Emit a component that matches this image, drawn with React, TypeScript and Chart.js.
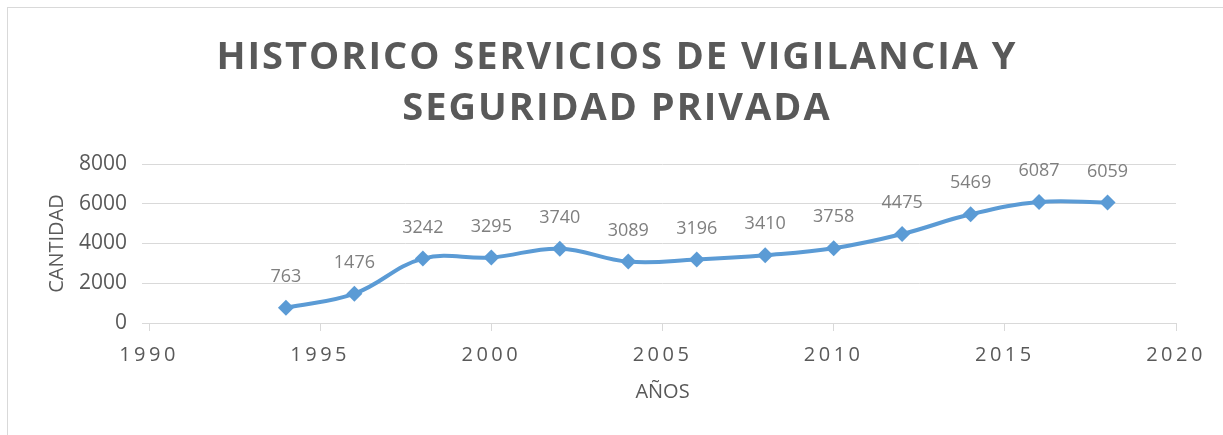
import React, { useEffect, useRef } from "react";
import { Chart, registerables } from "chart.js";

Chart.register(...registerables);

const TITLE_LINES = ["HISTORICO SERVICIOS DE VIGILANCIA Y", "SEGURIDAD PRIVADA"];
const Y_TITLE = "CANTIDAD";
const X_TITLE = "AÑOS";
const YEARS = [1994, 1996, 1998, 2000, 2002, 2004, 2006, 2008, 2010, 2012, 2014, 2016, 2018];
const VALUES = [763, 1476, 3242, 3295, 3740, 3089, 3196, 3410, 3758, 4475, 5469, 6087, 6059];
const X_MIN = 1990;
const X_MAX = 2020;
const X_STEP = 5;
const Y_MIN = 0;
const Y_MAX = 8000;
const Y_STEP = 2000;

const FONT = "'Open Sans', 'DejaVu Sans', sans-serif";
const TEXT_DARK = "#595959";
const LABEL_GREY = "#7f7f7f";
const GRID = "#d9d9d9";
const LINE = "#5b9bd5";

const letterSpacingPlugin = {
  id: "letterSpacing",
  beforeDraw(chart: any) {
    const ctx: any = chart.ctx;
    const tb: any = chart.titleBlock;
    if (tb && !tb.__ls) {
      const orig = tb.draw;
      tb.draw = function (...a: any[]) {
        const prev = ctx.letterSpacing;
        ctx.save();
        ctx.translate(25, 0);
        ctx.letterSpacing = "2px";
        orig.apply(this, a);
        ctx.restore();
        ctx.letterSpacing = prev;
      };
      tb.__ls = true;
    }
    const xs: any = chart.scales.x;
    if (xs && !xs.__ls) {
      const o = xs.drawLabels;
      xs.drawLabels = function (...a: any[]) {
        const prev = ctx.letterSpacing;
        ctx.letterSpacing = "3.5px";
        o.apply(this, a);
        ctx.letterSpacing = prev;
      };
      xs.__ls = true;
    }
  },
};

const valueLabelPlugin = {
  id: "valueLabels",
  afterDatasetsDraw(chart: any) {
    const ctx = chart.ctx;
    const meta = chart.getDatasetMeta(0);
    ctx.save();
    ctx.font = `18px ${FONT}`;
    ctx.fillStyle = LABEL_GREY;
    ctx.textAlign = "center";
    ctx.textBaseline = "middle";
    meta.data.forEach((pt: any, i: number) => {
      ctx.fillText(String(VALUES[i]), pt.x, pt.y - 31);
    });
    ctx.restore();
  },
};

export default function App() {
  const ref = useRef<HTMLCanvasElement | null>(null);

  useEffect(() => {
    document.documentElement.style.overflow = "hidden";
    const canvas = ref.current;
    if (!canvas) return;
    const chart = new Chart(canvas, {
      type: "line",
      data: {
        datasets: [
          {
            data: YEARS.map((y, i) => ({ x: y, y: VALUES[i] })),
            borderColor: LINE,
            backgroundColor: LINE,
            borderWidth: 4,
            tension: 0.4,
            pointStyle: "rectRot",
            pointRadius: 8,
            pointBackgroundColor: LINE,
            pointBorderColor: LINE,
            pointBorderWidth: 0,
            clip: false as any,
          },
        ],
      },
      options: {
        responsive: false,
        animation: false,
        devicePixelRatio: 1,
        layout: { padding: { left: 0, right: 47, top: 0, bottom: 0 } },
        plugins: {
          legend: { display: false },
          tooltip: { enabled: false },
          title: {
            display: true,
            text: TITLE_LINES,
            color: TEXT_DARK,
            font: { family: FONT, size: 38, weight: "bold", lineHeight: 51 / 38 },
            padding: { top: 24.5, bottom: 29.5 },
          },
        },
        scales: {
          x: {
            type: "linear",
            min: X_MIN,
            max: X_MAX,
            afterFit: (s: any) => {
              s.height = 112;
            },
            ticks: {
              stepSize: X_STEP,
              color: TEXT_DARK,
              font: { family: FONT, size: 20 },
              padding: 12,
              maxRotation: 0,
              callback: (v: any) => String(v),
            },
            grid: {
              drawOnChartArea: false,
              drawTicks: true,
              tickLength: 8,
              color: GRID,
              lineWidth: 1,
            },
            border: { display: true, color: GRID, width: 1 },
            title: {
              display: true,
              text: X_TITLE,
              color: TEXT_DARK,
              font: { family: FONT, size: 20 },
              padding: { top: 0, bottom: 31 },
            },
          },
          y: {
            min: Y_MIN,
            max: Y_MAX,
            afterFit: (s: any) => {
              s.width = 141;
            },
            ticks: {
              stepSize: Y_STEP,
              color: TEXT_DARK,
              font: { family: FONT, size: 21 },
              padding: 15,
              callback: (v: any) => String(v),
            },
            grid: {
              color: GRID,
              lineWidth: 1,
              drawTicks: true,
              tickLength: 7,
            },
            border: { display: false },
            title: {
              display: true,
              text: Y_TITLE,
              color: TEXT_DARK,
              font: { family: FONT, size: 20 },
              padding: { top: 37, bottom: 0 },
            },
          },
        },
      },
      plugins: [letterSpacingPlugin, valueLabelPlugin],
    } as any);
    return () => chart.destroy();
  }, []);

  return (
    <div
      style={{
        position: "absolute",
        left: 7,
        top: 7,
        borderLeft: `1px solid ${GRID}`,
        borderTop: `1px solid ${GRID}`,
        width: 1215,
        height: 427,
        background: "#fff",
      }}
    >
      <canvas ref={ref} width={1215} height={427} style={{ display: "block" }} />
    </div>
  );
}
